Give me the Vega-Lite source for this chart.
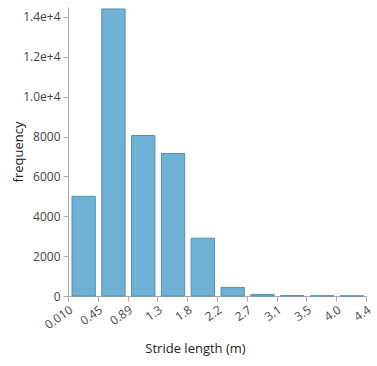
{
  "$schema": "https://vega.github.io/schema/vega-lite/v6.json",
  "autosize": "none",
  "width": 298,
  "height": 289,
  "padding": {"left": 68, "top": 7, "right": 11, "bottom": 70},
  "background": "white",
  "config": {
    "view": {"stroke": null},
    "font": "Segoe UI, Open Sans, sans-serif",
    "axis": {
      "grid": false,
      "domainColor": "#aaaaaa",
      "tickColor": "#aaaaaa",
      "tickSize": 5,
      "labelColor": "#444444",
      "labelFontSize": 12,
      "labelFont": "Segoe UI, Open Sans, sans-serif",
      "titleFont": "Segoe UI, Open Sans, sans-serif",
      "titleFontWeight": "normal",
      "titleFontSize": 13,
      "titleColor": "#222222"
    }
  },
  "data": {
    "values": [
      {"bin_start": 0.010, "bin_end": 0.451, "count": 5000},
      {"bin_start": 0.451, "bin_end": 0.892, "count": 14400},
      {"bin_start": 0.892, "bin_end": 1.333, "count": 8050},
      {"bin_start": 1.333, "bin_end": 1.774, "count": 7150},
      {"bin_start": 1.774, "bin_end": 2.215, "count": 2900},
      {"bin_start": 2.215, "bin_end": 2.656, "count": 430},
      {"bin_start": 2.656, "bin_end": 3.097, "count": 80},
      {"bin_start": 3.097, "bin_end": 3.538, "count": 20},
      {"bin_start": 3.538, "bin_end": 3.979, "count": 10},
      {"bin_start": 3.979, "bin_end": 4.420, "count": 5}
    ]
  },
  "mark": {
    "type": "bar",
    "fill": "#6fb1d5",
    "stroke": "#4f90b6",
    "strokeWidth": 1,
    "xOffset": 4,
    "x2Offset": -2.5
  },
  "encoding": {
    "x": {
      "field": "bin_start",
      "type": "quantitative",
      "scale": {"domain": [0.010, 4.420], "nice": false, "zero": false},
      "axis": {
        "title": "Stride length (m)",
        "values": [0.010, 0.451, 0.892, 1.333, 1.774, 2.215, 2.656, 3.097, 3.538, 3.979, 4.420],
        "format": ".2r",
        "labelAngle": -35,
        "labelAlign": "right",
        "labelBaseline": "top",
        "labelPadding": 3,
        "labelOverlap": false,
        "titleX": 127,
        "titleY": 46,
        "titleAnchor": "middle"
      }
    },
    "x2": {"field": "bin_end"},
    "y": {
      "field": "count",
      "type": "quantitative",
      "scale": {"domain": [0, 14500], "nice": false},
      "axis": {
        "title": "frequency",
        "values": [0, 2000, 4000, 6000, 8000, 10000, 12000, 14000],
        "labelExpr": "datum.value >= 10000 ? format(datum.value, '.1e') : format(datum.value, 'd')",
        "labelPadding": 3,
        "titleX": -43
      }
    },
    "y2": {"datum": 0}
  }
}
